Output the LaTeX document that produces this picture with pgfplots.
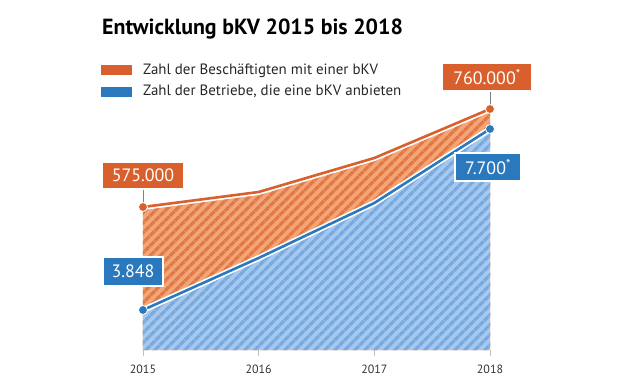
\documentclass[border=0pt]{standalone}
\usepackage{pgfplots}
\usepackage{pgfplotstable}
\pgfplotsset{compat=1.18}
\usetikzlibrary{patterns.meta}
\usepackage{fontspec}
\setmainfont{PT Sans}
\definecolor{corange}{HTML}{D9602D}
\definecolor{olight}{HTML}{F2A677}
\definecolor{odark}{HTML}{E27846}
\definecolor{cblue}{HTML}{2A78BE}
\definecolor{blight}{HTML}{A5C8EC}
\definecolor{bdark}{HTML}{78AAE0}
% heights of the two (independently scaled) series above the baseline
\pgfplotstableread{
year emp firms
2015 143 40
2016 158 92
2017 192 147
2018 241 221
}\data
\begin{document}
\begin{tikzpicture}
\useasboundingbox (-143bp,-33bp) rectangle (478bp,350bp);
\begin{axis}[at={(0,0)}, anchor=south west, scale only axis,
  width=347bp, height=350bp, xmin=2015, xmax=2018, ymin=0, ymax=350,
  clip=false, axis y line=none, axis x line*=bottom,
  x axis line style={draw=none},
  xtick={2015,2016,2017,2018}, xticklabels={2015,2016,2017,2018},
  major tick length=6bp, tick align=outside,
  xtick style={draw=gray!50, line width=0.8bp},
  xticklabel style={font=\fontsize{12}{13}\selectfont, text=black!80, yshift=-5bp}]
\addplot[draw=none, fill=olight, postaction={pattern={Lines[angle=45,distance=6.8bp,line width=3.4bp]}, pattern color=odark}] table[x=year,y=emp]{\data} \closedcycle;
\addplot[draw=none, fill=blight, postaction={pattern={Lines[angle=45,distance=6.8bp,line width=3.4bp]}, pattern color=bdark}] table[x=year,y=firms]{\data} \closedcycle;
\addplot[draw=white, line width=6bp] table[x=year,y=emp]{\data};
\addplot[draw=corange, line width=2.6bp, mark=*, mark indices={1,4}, mark size=4.5bp, mark options={fill=corange, draw=white, line width=0.8bp}] table[x=year,y=emp]{\data};
\addplot[draw=white, line width=6bp] table[x=year,y=firms]{\data};
\addplot[draw=cblue, line width=2.6bp, mark=*, mark indices={1,4}, mark size=4.5bp, mark options={fill=cblue, draw=white, line width=0.8bp}] table[x=year,y=firms]{\data};
\draw[gray, line width=0.8bp] (axis cs:2015,161) -- (axis cs:2015,147);
\draw[gray, line width=0.8bp] (axis cs:2018,259) -- (axis cs:2018,245);
\node[fill=corange, draw=white, line width=1.5bp, text=white, minimum width=81bp, minimum height=27bp, inner sep=0, font=\fontsize{18}{20}\selectfont] at (axis cs:2015,174.5) {575.000};
\node[fill=cblue, draw=white, line width=1.5bp, text=white, minimum width=60bp, minimum height=29bp, inner sep=0, font=\fontsize{18}{20}\selectfont, xshift=-10bp] at (axis cs:2015,78.5) {3.848};
\node[fill=corange, draw=white, line width=1.5bp, text=white, minimum width=90bp, minimum height=28bp, inner sep=0, font=\fontsize{18}{20}\selectfont, xshift=-3bp] at (axis cs:2018,273) {760.000\textsuperscript{*}};
\node[fill=cblue, draw=white, line width=1.5bp, text=white, minimum width=66bp, minimum height=28bp, inner sep=0, font=\fontsize{18}{20}\selectfont, xshift=-2bp] at (axis cs:2018,183) {7.700\textsuperscript{*}};
\end{axis}
\node[anchor=base west, inner sep=0] at (-41bp,315bp) {\fontsize{22}{24}\selectfont\bfseries Entwicklung bKV 2015 bis 2018};
\fill[corange] (-42bp,275bp) rectangle (-11bp,285bp);
\node[anchor=base west, inner sep=0, text=black!85] at (0bp,275bp) {\fontsize{15}{16}\selectfont Zahl der Beschäftigten mit einer bKV};
\fill[cblue] (-42bp,253bp) rectangle (-11bp,263bp);
\node[anchor=base west, inner sep=0, text=black!85] at (0bp,254bp) {\fontsize{15}{16}\selectfont Zahl der Betriebe, die eine bKV anbieten};
\end{tikzpicture}
\end{document}
